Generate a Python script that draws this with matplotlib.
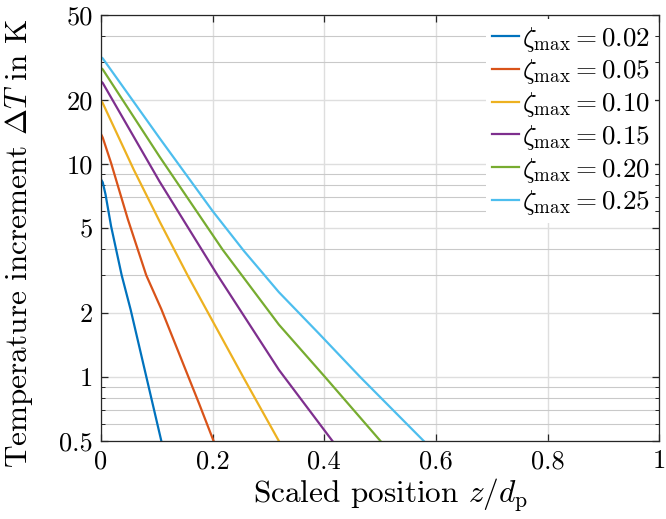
import matplotlib
matplotlib.use("Agg")
import matplotlib.pyplot as plt
from matplotlib.ticker import FixedLocator, FixedFormatter, NullFormatter

plt.rcParams['font.family'] = 'serif'
plt.rcParams['font.serif'] = ['cmr10']
plt.rcParams['mathtext.fontset'] = 'cm'
plt.rcParams['axes.formatter.use_mathtext'] = True

# ---- data ----
zeta_labels = ["0.02", "0.05", "0.10", "0.15", "0.20", "0.25"]
colors = ["#0072BD", "#D95319", "#EDB120", "#7E2F8E", "#77AC30", "#4DBEEE"]

x_002 = [0, 0.003, 0.008, 0.018, 0.037, 0.053, 0.108]
y_002 = [8.45, 8.2, 7.2, 5.1, 3.0, 2.07, 0.5]

x_005 = [0, 0.003, 0.018, 0.048, 0.081, 0.108, 0.176, 0.2016]
y_005 = [13.8, 13.3, 10.1, 5.5, 3.0, 2.08, 0.745, 0.5]

x_010 = [0, 0.003, 0.059, 0.106, 0.155, 0.2545, 0.3185]
y_010 = [19.8, 19.3, 9.35, 5.3, 3.0, 1.0, 0.5]

x_015 = [0, 0.003, 0.105, 0.2088, 0.3185, 0.4145]
y_015 = [24.4, 24.0, 8.25, 3.0, 1.08, 0.5]

x_020 = [0, 0.003, 0.105, 0.218, 0.3185, 0.401, 0.5005]
y_020 = [28.2, 27.8, 10.8, 3.95, 1.76, 1.0, 0.5]

x_025 = [0, 0.003, 0.105, 0.2, 0.256, 0.3185, 0.39, 0.464, 0.578]
y_025 = [31.7, 31.3, 13.2, 6.0, 3.9, 2.5, 1.6, 1.0, 0.5]

xs = [x_002, x_005, x_010, x_015, x_020, x_025]
ys = [y_002, y_005, y_010, y_015, y_020, y_025]

y_major = [0.5, 1, 2, 5, 10, 20, 50]
y_major_labels = ["0.5", "1", "2", "5", "10", "20", "50"]
y_minor = [0.6, 0.7, 0.8, 0.9, 3, 4, 6, 7, 8, 9, 30, 40]
x_ticks = [0, 0.2, 0.4, 0.6, 0.8, 1]
x_tick_labels = ["0", "0.2", "0.4", "0.6", "0.8", "1"]

# ---- figure ----
fig = plt.figure(figsize=(6.66, 5.19), dpi=100)
ax = fig.add_axes([0.1517, 0.1503, 0.99 - 0.1517, 0.971 - 0.1503])

for x, y, c, lab in zip(xs, ys, colors, zeta_labels):
    ax.plot(x, y, color=c, lw=1.6, label=r'$\zeta_{\mathrm{max}} = ' + lab + '$')

ax.set_yscale('log')
ax.set_xlim(0, 1)
ax.set_ylim(0.5, 50)

ax.yaxis.set_major_locator(FixedLocator(y_major))
ax.yaxis.set_major_formatter(FixedFormatter(y_major_labels))
ax.yaxis.set_minor_locator(FixedLocator(y_minor))
ax.yaxis.set_minor_formatter(NullFormatter())
ax.set_xticks(x_ticks)
ax.set_xticklabels(x_tick_labels)

ax.grid(True, which='major', color='#DEDEDE', lw=1.0)
ax.grid(True, which='minor', axis='y', color='#C9C9C9', lw=0.8)
ax.set_axisbelow(True)

ax.tick_params(which='both', direction='in', top=True, right=True,
               labelsize=19, color='#262626', pad=6)
ax.tick_params(which='major', length=5, width=0.9)
ax.tick_params(which='minor', length=3, width=0.7)
for s in ax.spines.values():
    s.set_color('#262626')
    s.set_linewidth(0.9)

ax.set_xlabel(r'Scaled position $z/d_{\mathrm{p}}$', fontsize=22.5)
ax.set_ylabel(r'Temperature increment $\Delta T$ in K', fontsize=22.5)
ax.yaxis.set_label_coords(-0.118, 0.465)
ax.xaxis.set_label_coords(0.518, -0.085)

leg = ax.legend(loc='upper right', fontsize=19.5, frameon=True, fancybox=False,
                edgecolor='none', facecolor='white', framealpha=1.0,
                handlelength=1.0, handletextpad=0.1, labelspacing=0.14,
                borderaxespad=0.15, borderpad=0.2)

fig.savefig('out.png', dpi=100)
